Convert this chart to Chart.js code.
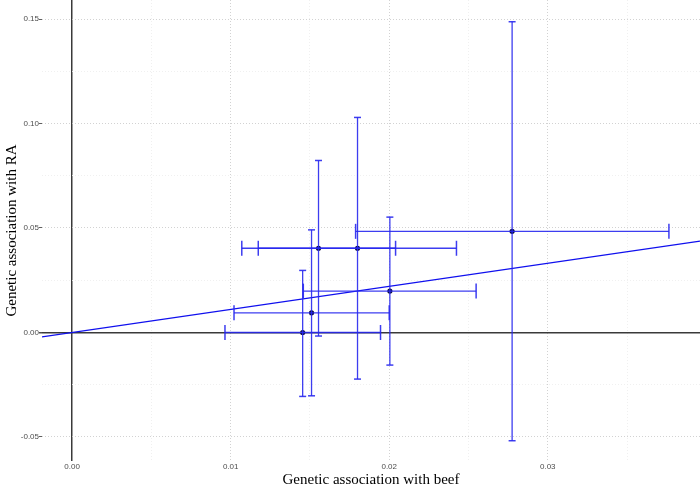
<!DOCTYPE html>
<html>
<head>
<meta charset="utf-8">
<title>Genetic association with beef vs RA</title>
<script src="https://cdn.jsdelivr.net/npm/chart.js@4.4.0/dist/chart.umd.min.js"></script>
<style>
  html, body { margin: 0; padding: 0; background: #fff; }
</style>
</head>
<body>
<canvas id="chart" width="700" height="488"></canvas>
<script>
// ------------------------------------------------------
// Data (SNP estimates with 95% CIs)
// ------------------------------------------------------
const beefBeta = [0.01454, 0.0151, 0.02004, 0.01554, 0.0180, 0.02775];
const raBeta   = [0.0000, 0.0094, 0.0198, 0.0403, 0.0403, 0.0484];

const beefLow  = [0.00964, 0.01021, 0.01458, 0.0107, 0.01174, 0.01788];
const beefHigh = [0.01945, 0.0200, 0.02548, 0.0204, 0.02424, 0.03764];
const raLow    = [-0.0306, -0.0303, -0.0156, -0.0017, -0.0223, -0.0518];
const raHigh   = [0.0297, 0.0491, 0.0552, 0.0823, 0.1029, 0.1487];

// regression line end points
const fitX = [-0.0019, 0.0396];
const fitY = [-0.0021, 0.0437];

// ticks (major + minor grid)
const xTicks = [0, 0.005, 0.01, 0.015, 0.02, 0.025, 0.03, 0.035];
const yTicks = [-0.05, -0.025, 0, 0.025, 0.05, 0.075, 0.1, 0.125, 0.15];

const X_MIN = -0.0019, X_MAX = 0.0396;
const Y_MIN = -0.0615, Y_MAX = 0.1591;

const BAR_COLOR = "rgba(40,40,238,0.9)";
const FIT_COLOR = "#1010ee";
const DOT_COLOR = "#0b0b3b";

function isMajor(v, step) {
  return Math.abs(v / step - Math.round(v / step)) < 1e-6;
}

// ------------------------------------------------------
// Build datasets
// ------------------------------------------------------
const datasets = [];

for (let i = 0; i < beefBeta.length; i++) {
  // vertical CI (RA)
  datasets.push({
    data: [{ x: beefBeta[i], y: raLow[i] }, { x: beefBeta[i], y: raHigh[i] }],
    showLine: true,
    borderColor: BAR_COLOR,
    borderWidth: 1.3,
    pointStyle: "line",
    pointRadius: 3.5,
    pointRotation: 0,
    pointBorderColor: BAR_COLOR,
    pointBorderWidth: 1.5
  });
  // horizontal CI (beef)
  datasets.push({
    data: [{ x: beefLow[i], y: raBeta[i] }, { x: beefHigh[i], y: raBeta[i] }],
    showLine: true,
    borderColor: BAR_COLOR,
    borderWidth: 1.3,
    pointStyle: "line",
    pointRadius: 7.5,
    pointRotation: 90,
    pointBorderColor: BAR_COLOR,
    pointBorderWidth: 1.5
  });
}

// fitted line
datasets.push({
  data: fitX.map((x, i) => ({ x: x, y: fitY[i] })),
  showLine: true,
  borderColor: FIT_COLOR,
  borderWidth: 1.2,
  pointRadius: 0
});

// points on top
datasets.push({
  data: beefBeta.map((x, i) => ({ x: x, y: raBeta[i] })),
  pointRadius: 2.6,
  pointBackgroundColor: DOT_COLOR,
  pointBorderWidth: 0
});

// grid helpers
function gridColor(ctx, step) {
  const v = ctx.tick.value;
  if (Math.abs(v) < 1e-9) return "#3a3a3a";
  return isMajor(v, step) ? "#cdcdcd" : "#eeeeee";
}
function gridWidth(ctx) {
  return Math.abs(ctx.tick.value) < 1e-9 ? 1.5 : 0.9;
}
function gridDash(ctx) {
  return Math.abs(ctx.tick.value) < 1e-9 ? [] : [1, 2];
}

// ------------------------------------------------------
// Chart
// ------------------------------------------------------
new Chart(document.getElementById("chart"), {
  type: "scatter",
  data: { datasets: datasets },
  options: {
    responsive: false,
    animation: false,
    events: [],
    layout: { padding: 0, autoPadding: false },
    plugins: {
      legend: { display: false },
      tooltip: { enabled: false }
    },
    scales: {
      x: {
        type: "linear",
        min: X_MIN,
        max: X_MAX,
        afterBuildTicks: s => { s.ticks = xTicks.map(v => ({ value: v })); },
        afterFit: s => { s.height = 27; s.paddingLeft = 0; s.paddingRight = 0; },
        ticks: {
          autoSkip: false,
          maxRotation: 0,
          padding: 1,
          color: "#4d4d4d",
          font: { family: "Liberation Sans", size: 8 },
          callback: v => isMajor(v, 0.01) ? v.toFixed(2) : ""
        },
        grid: {
          color: ctx => gridColor(ctx, 0.01),
          lineWidth: gridWidth,
          drawTicks: false
        },
        border: { display: false, dash: gridDash },
        title: {
          display: true,
          text: "Genetic association with beef",
          color: "#000",
          font: { family: "Liberation Serif", size: 15 },
          padding: { top: 0, bottom: -1 }
        }
      },
      y: {
        type: "linear",
        min: Y_MIN,
        max: Y_MAX,
        afterBuildTicks: s => { s.ticks = yTicks.map(v => ({ value: v })); },
        afterFit: s => { s.width = 42; s.paddingTop = 0; s.paddingBottom = 0; },
        ticks: {
          autoSkip: false,
          padding: 0,
          color: "#4d4d4d",
          font: { family: "Liberation Sans", size: 8 },
          callback: v => isMajor(v, 0.05) ? v.toFixed(2) : ""
        },
        grid: {
          color: ctx => gridColor(ctx, 0.05),
          lineWidth: gridWidth,
          tickLength: 3,
          tickColor: ctx => isMajor(ctx.tick.value, 0.05) ? "#4d4d4d" : "rgba(0,0,0,0)"
        },
        border: { display: false, dash: gridDash },
        title: {
          display: true,
          text: "Genetic association with RA",
          color: "#000",
          font: { family: "Liberation Serif", size: 15 },
          padding: { top: 3, bottom: 0 }
        }
      }
    }
  }
});
</script>
</body>
</html>
